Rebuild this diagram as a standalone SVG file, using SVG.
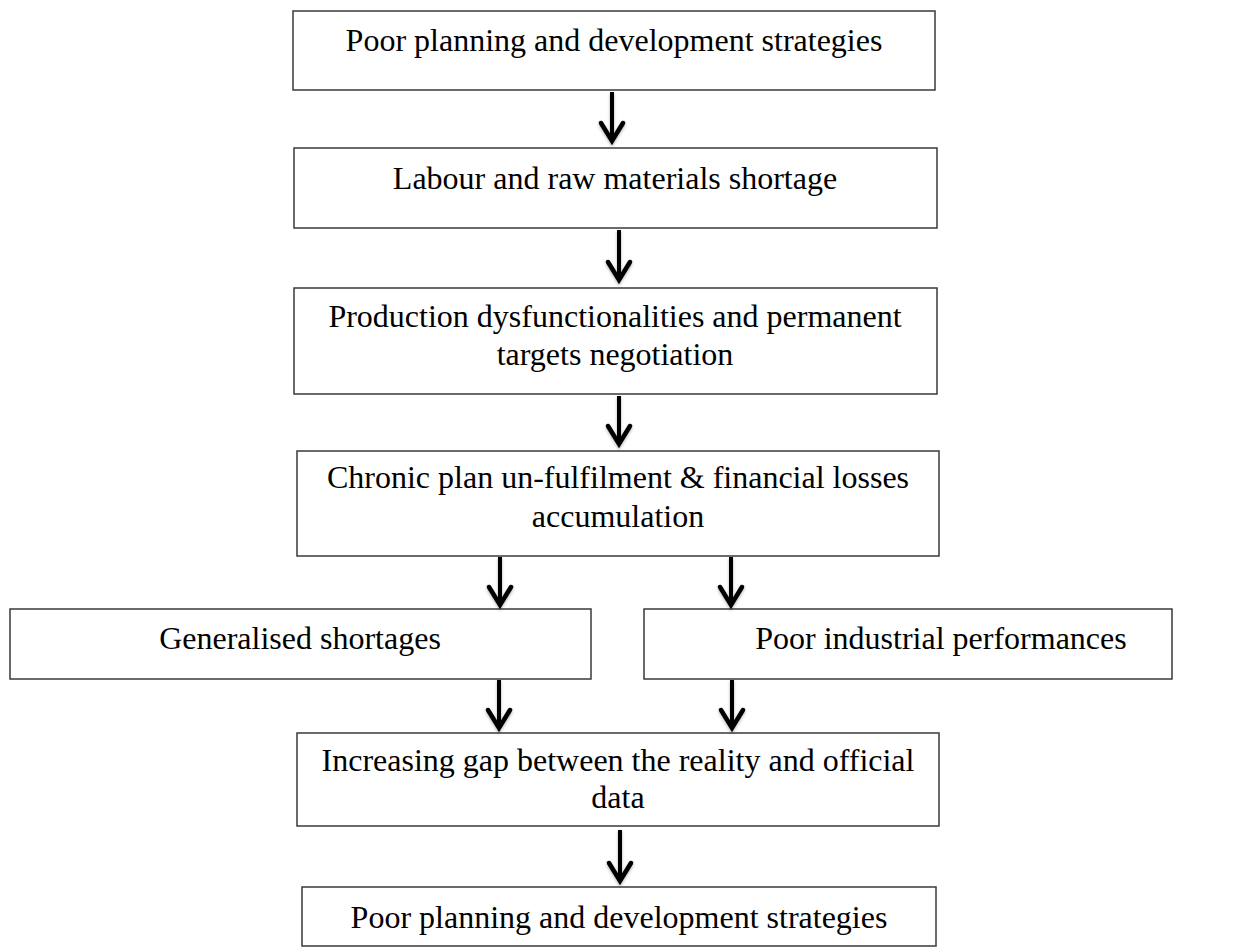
<svg xmlns="http://www.w3.org/2000/svg" width="1246" height="948" viewBox="0 0 1246 948">
  <defs>
    <filter id="sh" x="-50%" y="-20%" width="200%" height="140%">
      <feDropShadow dx="0" dy="1.5" stdDeviation="1.5" flood-color="#000" flood-opacity="0.3"/>
    </filter>
  </defs>
  <style>
    .box { fill: #ffffff; stroke: #3a3a3a; stroke-width: 1.5; }
    .lbl { font-family: "Liberation Serif", "Times New Roman", serif; font-size: 32px; fill: #000; text-anchor: middle; }
    .arr { stroke: #000; stroke-width: 4; fill: none; }
    .head { stroke: #000; stroke-width: 4.5; fill: none; stroke-linecap: round; stroke-linejoin: miter; }
  </style>
  <rect width="1246" height="948" fill="#ffffff"/>
  <g id="n1"><rect class="box" x="293" y="11" width="642" height="79"/><text class="lbl" x="614" y="51">Poor planning and development strategies</text></g>
  <g id="n2"><rect class="box" x="294" y="148" width="643" height="80"/><text class="lbl" x="615" y="189">Labour and raw materials shortage</text></g>
  <g id="n3"><rect class="box" x="294" y="288" width="643" height="106"/><text class="lbl" x="615" y="327">Production dysfunctionalities and permanent</text><text class="lbl" x="615" y="365">targets negotiation</text></g>
  <g id="n4"><rect class="box" x="297" y="451" width="642" height="105"/><text class="lbl" x="618" y="488">Chronic plan un-fulfilment &amp; financial losses</text><text class="lbl" x="618" y="527">accumulation</text></g>
  <g id="n5"><rect class="box" x="10" y="609" width="581" height="70"/><text class="lbl" x="300" y="649">Generalised shortages</text></g>
  <g id="n6"><rect class="box" x="644" y="609" width="528" height="70"/><text class="lbl" x="941" y="649">Poor industrial performances</text></g>
  <g id="n7"><rect class="box" x="297" y="733" width="642" height="93"/><text class="lbl" x="618" y="771">Increasing gap between the reality and official</text><text class="lbl" x="618" y="808">data</text></g>
  <g id="n8"><rect class="box" x="302" y="887" width="634" height="59"/><text class="lbl" x="619" y="928">Poor planning and development strategies</text></g>
  <g id="connectors" filter="url(#sh)">
    <line class="arr" x1="612" y1="92" x2="612" y2="141"/><polyline class="head" points="601,123 612,141 623,123"/>
    <line class="arr" x1="619" y1="230" x2="619" y2="280"/><polyline class="head" points="608,262 619,280 630,262"/>
    <line class="arr" x1="619" y1="396" x2="619" y2="444"/><polyline class="head" points="608,426 619,444 630,426"/>
    <line class="arr" x1="500" y1="557" x2="500" y2="605"/><polyline class="head" points="489,587 500,605 511,587"/>
    <line class="arr" x1="731" y1="557" x2="731" y2="605"/><polyline class="head" points="720,587 731,605 742,587"/>
    <line class="arr" x1="499" y1="680" x2="499" y2="728"/><polyline class="head" points="488,710 499,728 510,710"/>
    <line class="arr" x1="732" y1="680" x2="732" y2="728"/><polyline class="head" points="721,710 732,728 743,710"/>
    <line class="arr" x1="620" y1="830" x2="620" y2="881"/><polyline class="head" points="609,863 620,881 631,863"/>
  </g>
</svg>
